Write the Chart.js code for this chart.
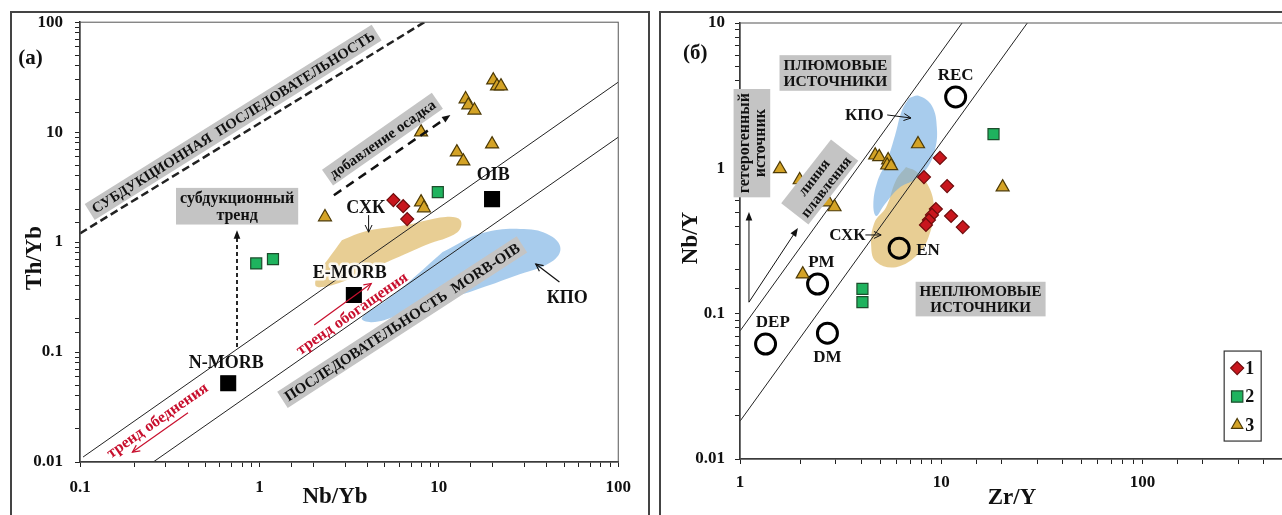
<!DOCTYPE html>
<html>
<head>
<meta charset="utf-8">
<script src="https://cdn.jsdelivr.net/npm/chart.js@4.4.1/dist/chart.umd.min.js"></script>
<style>
body { margin: 0; background: #fff; overflow: hidden; width: 1282px; height: 515px; position: relative; }
canvas { position: absolute; top: 0; }
#chartA { left: 0; }
#chartB { left: 641px; }
.frame { position: absolute; top: 11px; height: 530px; border: 2px solid #444; }
</style>
</head>
<body>
<div class="frame" style="left:10px;width:636px"></div>
<div class="frame" style="left:659px;width:700px"></div>
<canvas id="chartA" width="641" height="515"></canvas>
<canvas id="chartB" width="655" height="515"></canvas>
<script>
// ---- (a) Th/Yb vs Nb/Yb ----
var aTicksX = [0.1, 1, 10, 100];
var aTicksY = [0.01, 0.1, 1, 10, 100];
var aGroup1 = [[5.58, 2.41], [6.33, 2.12], [6.66, 1.62]];
var aGroup2 = [[0.96, 0.64], [1.19, 0.70], [9.87, 2.85]];
var aGroup3 = [[20.1, 29.7], [21.1, 26.2], [22.2, 26.2], [14.1, 20.0], [14.6, 17.6], [15.8, 15.8],
    [7.96, 10.0], [19.8, 7.78], [12.6, 6.58], [13.7, 5.44], [7.96, 2.31], [8.26, 2.04], [2.32, 1.69]];
var aRefNames = ['N-MORB', 'E-MORB', 'OIB'];
var aRefPoints = [[0.67, 0.052], [3.36, 0.33], [19.8, 2.46]];
var aSubductionLine = [[0.1, 1.2], [8.3, 100]];
var aArrayUpper = [[0.104, 0.0111], [100, 28.5]];
var aArrayLower = [[0.256, 0.01], [100, 9.0]];
var aFieldCXK = [[2.88, 1.04], [3.96, 1.26], [6.58, 1.43], [10.9, 1.69], [13.2, 1.58], [12.7, 1.23],
    [8.47, 0.94], [5.79, 0.716], [3.96, 0.545], [2.88, 0.433], [2.24, 0.39], [2.05, 0.406],
    [2.15, 0.534], [2.44, 0.716]];
var aFieldKPO = [[10.5, 0.811], [17.5, 1.21], [31.3, 1.31], [43.1, 1.11], [47.6, 0.846], [41.4, 0.644],
    [26.5, 0.491], [16.0, 0.366], [9.62, 0.279], [5.79, 0.212], [4.22, 0.187], [3.72, 0.204],
    [5.11, 0.297], [7.01, 0.452]];

// ---- (б) Nb/Y vs Zr/Y ----
var bTicksX = [1, 10, 100];
var bTicksY = [0.01, 0.1, 1, 10];
var bGroup1 = [[9.86, 1.18], [8.21, 0.871], [10.7, 0.755], [9.41, 0.525], [9.0, 0.478], [8.69, 0.441],
    [8.40, 0.408], [11.2, 0.47], [12.8, 0.394]];
var bGroup2 = [[18.2, 1.72], [4.06, 0.148], [4.06, 0.120]];
var bGroup3 = [[20.2, 0.743], [1.58, 0.99], [1.98, 0.831], [2.75, 0.586], [2.95, 0.542], [4.70, 1.23],
    [4.92, 1.20], [5.45, 1.14], [5.39, 1.05], [5.64, 1.04], [7.67, 1.47], [2.05, 0.187]];
var bRefNames = ['REC', 'EN', 'PM', 'DEP', 'DM'];
var bRefPoints = [[11.8, 3.10], [6.18, 0.282], [2.43, 0.16], [1.34, 0.0618], [2.72, 0.0734]];
var bLineUpper = [[1, 0.076], [12.7, 10]];
var bLineLower = [[1, 0.0182], [26.8, 10]];
var bFieldKPO = [[6.92, 3.05], [7.76, 3.15], [9.0, 2.69], [9.52, 1.89], [9.31, 1.34], [8.50, 1.0],
    [7.33, 0.831], [6.18, 0.732], [5.21, 0.559], [4.76, 0.47], [4.60, 0.559], [4.81, 0.805],
    [5.39, 1.14], [5.90, 1.69], [6.39, 2.52]];
var bFieldCXK = [[6.69, 1.02], [7.58, 0.943], [8.69, 0.744], [9.2, 0.542], [8.89, 0.376], [7.76, 0.261],
    [5.97, 0.209], [4.76, 0.227], [4.49, 0.287], [4.65, 0.421], [5.33, 0.542], [5.97, 0.831]];
var legendNames = ['1', '2', '3'];

var RED = '#c8102e';
var FONT = '"Liberation Serif", "DejaVu Serif", serif';
var GRAY = '#c4c4c4';
var INK = '#111';
var STYLE1 = { shape: 'rectRot', r: 6.5, fill: '#c8161d', line: '#6e0b0b' };
var STYLE2 = { shape: 'rect', r: 7.8, fill: '#1fb35e', line: '#1d4d2c' };
var STYLE3 = { shape: 'triangle', r: 7.5, fill: '#d4a326', line: '#4d3a06' };

// labels, boxes and arrows, placed in data coordinates
var aNotes = [
    { type: 'text', at: [0.053, 48], text: '(a)', size: 21 },
    { type: 'box', at: [0.714, 12.3], rot: -32, lines: ['СУБДУКЦИОННАЯ  ПОСЛЕДОВАТЕЛЬНОСТЬ'], size: 14.5 },
    { type: 'box', at: [0.751, 2.12], lines: ['субдукционный', 'тренд'], size: 16 },
    { type: 'box', at: [4.85, 8.63], rot: -35, lines: ['добавление осадка'], size: 15 },
    { type: 'box', at: [6.25, 0.187], rot: -33, lines: ['ПОСЛЕДОВАТЕЛЬНОСТЬ  MORB-OIB'], size: 15 },
    { type: 'text', at: [0.269, 0.0241], rot: -35, text: 'тренд обеднения', size: 16, color: RED },
    { type: 'text', at: [3.27, 0.226], rot: -35, text: 'тренд обогащения', size: 16, color: RED },
    { type: 'text', at: [0.653, 0.0811], text: aRefNames[0], size: 18 },
    { type: 'text', at: [3.19, 0.534], text: aRefNames[1], size: 18, halo: true },
    { type: 'text', at: [20.1, 4.15], text: aRefNames[2], size: 18 },
    { type: 'text', at: [3.91, 2.08], text: 'СХК', size: 18 },
    { type: 'text', at: [52.0, 0.316], text: 'КПО', size: 18 },
    { type: 'arrow', from: [0.75, 0.111], to: [0.75, 1.28], dash: [4, 3], width: 1.8, head: 'fill' },
    { type: 'arrow', from: [2.6, 2.67], to: [11.6, 14.3], dash: [9, 6], width: 2.5, head: 'fill' },
    { type: 'arrow', from: [0.40, 0.028], to: [0.196, 0.0123], color: RED, width: 1.2, head: 'open' },
    { type: 'arrow', from: [2.02, 0.176], to: [4.2, 0.42], color: RED, width: 1.2, head: 'open' },
    { type: 'arrow', from: [4.06, 1.76], to: [4.06, 1.23], width: 1, head: 'open' },
    { type: 'arrow', from: [47.0, 0.433], to: [34.7, 0.631], width: 1.2, head: 'open' }
];
var bNotes = [
    { type: 'text', at: [0.6, 6.3], text: '(б)', size: 21 },
    { type: 'box', at: [2.98, 4.53], lines: ['ПЛЮМОВЫЕ', 'ИСТОЧНИКИ'], size: 15.5 },
    { type: 'box', at: [1.146, 1.49], rot: -90, lines: ['гетерогенный', 'источник'], size: 16 },
    { type: 'box', at: [2.49, 0.805], rot: -52, lines: ['линия', 'плавления'], size: 15 },
    { type: 'box', at: [15.7, 0.126], lines: ['НЕПЛЮМОВЫЕ', 'ИСТОЧНИКИ'], size: 15 },
    { type: 'text', at: [4.15, 2.33], text: 'КПО', size: 17 },
    { type: 'text', at: [3.42, 0.348], text: 'СХК', size: 17 },
    { type: 'text', at: [11.8, 4.39], text: bRefNames[0], size: 17 },
    { type: 'text', at: [8.6, 0.274], text: bRefNames[1], size: 17 },
    { type: 'text', at: [2.54, 0.227], text: bRefNames[2], size: 17 },
    { type: 'text', at: [1.456, 0.0875], text: bRefNames[3], size: 17 },
    { type: 'text', at: [2.72, 0.051], text: bRefNames[4], size: 17 },
    { type: 'arrow', from: [1.108, 0.120], to: [1.108, 0.50], width: 1, head: 'fill' },
    { type: 'arrow', from: [1.108, 0.120], to: [1.94, 0.388], width: 1, head: 'fill' },
    { type: 'arrow', from: [5.39, 2.33], to: [7.08, 2.22], width: 1, head: 'open' },
    { type: 'arrow', from: [4.20, 0.348], to: [5.03, 0.348], width: 1, head: 'open' }
];

function pt(list) {
    return list.map(function (p) { return { x: p[0], y: p[1] }; });
}

function closed(list) {
    return list.concat([list[0]]);
}

function matchTick(v, list) {
    for (var i = 0; i < list.length; i++) {
        if (Math.abs(v / list[i] - 1) < 1e-6) return String(list[i]);
    }
    return '';
}

function logAxis(min, max, labels, size, pad, isX) {
    return {
        type: 'logarithmic', min: min, max: max,
        afterFit: function (s) { if (isX) { s.height = size; } else { s.width = size; } },
        border: { display: true, color: '#222', width: 1.5 },
        grid: { drawOnChartArea: false, drawTicks: true, tickLength: 5, color: '#222', lineWidth: 1 },
        ticks: {
            autoSkip: false, maxRotation: 0, padding: pad, color: INK,
            font: { family: FONT, size: 17, weight: 'bold' },
            callback: function (v) { return matchTick(v, labels); }
        }
    };
}

function pointSet(data, st, order) {
    return {
        type: 'scatter', data: pt(data), order: order || 0,
        pointStyle: st.shape, pointRadius: st.r, pointHoverRadius: st.r,
        pointBackgroundColor: st.fill, pointBorderColor: st.line, pointBorderWidth: 1.2
    };
}

function lineSet(data, width, dash) {
    return {
        type: 'line', data: pt(data), order: 5, borderColor: '#222', borderWidth: width,
        borderDash: dash || [], pointRadius: 0, fill: false, tension: 0
    };
}

function fieldSet(data, color, order) {
    return {
        type: 'line', data: pt(closed(data)), order: order, borderColor: 'transparent', borderWidth: 0,
        backgroundColor: color, fill: 'shape', tension: 0.4, pointRadius: 0
    };
}

function drawMarker(ctx, st, x, y) {
    var r = st.r;
    ctx.beginPath();
    if (st.shape === 'rectRot') {
        ctx.moveTo(x, y - r); ctx.lineTo(x + r, y); ctx.lineTo(x, y + r); ctx.lineTo(x - r, y);
    } else if (st.shape === 'rect') {
        var h = r * Math.SQRT1_2;
        ctx.rect(x - h, y - h, 2 * h, 2 * h);
    } else {
        ctx.moveTo(x, y - r);
        ctx.lineTo(x + r * 0.866, y + r * 0.5);
        ctx.lineTo(x - r * 0.866, y + r * 0.5);
    }
    ctx.closePath();
    ctx.fillStyle = st.fill; ctx.strokeStyle = st.line; ctx.lineWidth = 1.2;
    ctx.fill(); ctx.stroke();
}

function drawArrow(ctx, x1, y1, x2, y2, n) {
    var ang = Math.atan2(y2 - y1, x2 - x1);
    var hl = n.head === 'fill' ? 9 : 8;
    var spread = n.head === 'fill' ? 0.38 : 0.45;
    var col = n.color || INK;
    ctx.save();
    ctx.strokeStyle = col; ctx.fillStyle = col; ctx.lineWidth = n.width || 1;
    ctx.setLineDash(n.dash || []);
    ctx.beginPath();
    ctx.moveTo(x1, y1);
    var back = n.head === 'fill' ? hl * 0.7 : 0;
    ctx.lineTo(x2 - Math.cos(ang) * back, y2 - Math.sin(ang) * back);
    ctx.stroke();
    ctx.setLineDash([]);
    ctx.beginPath();
    ctx.moveTo(x2 - hl * Math.cos(ang - spread), y2 - hl * Math.sin(ang - spread));
    ctx.lineTo(x2, y2);
    ctx.lineTo(x2 - hl * Math.cos(ang + spread), y2 - hl * Math.sin(ang + spread));
    if (n.head === 'fill') { ctx.closePath(); ctx.fill(); } else { ctx.stroke(); }
    ctx.restore();
}

function notesPlugin(notes, titles, legendAt) {
    return {
        id: 'notes',
        afterDatasetsDraw: function (chart) {
            var ctx = chart.ctx, xs = chart.scales.x, ys = chart.scales.y, ca = chart.chartArea;
            ctx.save();
            ctx.strokeStyle = '#555'; ctx.lineWidth = 1;
            ctx.strokeRect(ca.left, ca.top, ca.right - ca.left, ca.bottom - ca.top);
            ctx.restore();

            notes.forEach(function (n) {
                if (n.type === 'arrow') {
                    drawArrow(ctx, xs.getPixelForValue(n.from[0]), ys.getPixelForValue(n.from[1]),
                        xs.getPixelForValue(n.to[0]), ys.getPixelForValue(n.to[1]), n);
                    return;
                }
                var lines = n.lines || [n.text];
                var lh = n.size * (n.type === 'box' ? 1.02 : 1.12);
                ctx.save();
                ctx.translate(xs.getPixelForValue(n.at[0]), ys.getPixelForValue(n.at[1]));
                ctx.rotate((n.rot || 0) * Math.PI / 180);
                ctx.font = 'bold ' + n.size + 'px ' + FONT;
                ctx.textAlign = 'center';
                ctx.textBaseline = 'middle';
                if (n.type === 'box') {
                    var w = 0;
                    lines.forEach(function (s) { w = Math.max(w, ctx.measureText(s).width); });
                    var h = lines.length * lh;
                    ctx.fillStyle = GRAY;
                    ctx.fillRect(-w / 2 - 4, -h / 2 - 2, w + 8, h + 4);
                }
                lines.forEach(function (s, i) {
                    var yy = (i - (lines.length - 1) / 2) * lh + 1;
                    if (n.halo) {
                        ctx.strokeStyle = 'rgba(255,255,255,0.85)'; ctx.lineWidth = 5; ctx.lineJoin = 'round';
                        ctx.strokeText(s, 0, yy);
                    }
                    ctx.fillStyle = n.color || INK;
                    ctx.fillText(s, 0, yy);
                });
                ctx.restore();
            });

            // axis titles
            ctx.save();
            ctx.fillStyle = INK;
            ctx.font = 'bold 23px ' + FONT;
            ctx.textAlign = 'center';
            ctx.textBaseline = 'middle';
            ctx.fillText(titles.x[0], titles.x[1], titles.x[2]);
            ctx.translate(titles.y[1], titles.y[2]);
            ctx.rotate(-Math.PI / 2);
            ctx.fillText(titles.y[0], 0, 0);
            ctx.restore();

            if (legendAt) {
                var lx = xs.getPixelForValue(legendAt[0]), ly = ys.getPixelForValue(legendAt[1]);
                ctx.save();
                ctx.fillStyle = '#fff';
                ctx.fillRect(lx, ly, 37, 90);
                ctx.strokeStyle = '#333'; ctx.lineWidth = 1.2;
                ctx.strokeRect(lx, ly, 37, 90);
                [STYLE1, STYLE2, STYLE3].forEach(function (st, i) {
                    var cy = ly + 17 + i * 28.5;
                    var m = { shape: st.shape, r: st.shape === 'rect' ? 8 : 6.5, fill: st.fill, line: st.line };
                    drawMarker(ctx, m, lx + 13, cy);
                    ctx.fillStyle = INK;
                    ctx.font = 'bold 18px ' + FONT;
                    ctx.textAlign = 'left';
                    ctx.textBaseline = 'middle';
                    ctx.fillText(legendNames[i], lx + 21, cy + 1);
                });
                ctx.restore();
            }
        }
    };
}

function baseOptions(xAxis, yAxis, padding) {
    return {
        responsive: false,
        devicePixelRatio: 1,
        animation: false,
        events: [],
        layout: { padding: padding },
        plugins: { legend: { display: false }, tooltip: { enabled: false } },
        scales: { x: xAxis, y: yAxis }
    };
}

var refStyle = { shape: 'rect', r: 10.5, fill: '#000', line: '#000' };

new Chart(document.getElementById('chartA'), {
    type: 'scatter',
    data: {
        datasets: [
            pointSet(aGroup1, STYLE1),
            pointSet(aGroup2, STYLE2),
            pointSet(aGroup3, STYLE3),
            pointSet(aRefPoints, refStyle, 1),
            lineSet(aSubductionLine, 2.5, [8, 4]),
            lineSet(aArrayUpper, 1),
            lineSet(aArrayLower, 1),
            fieldSet(aFieldCXK, 'rgba(218,176,82,0.62)', 10),
            fieldSet(aFieldKPO, 'rgba(110,170,225,0.6)', 10)
        ]
    },
    options: baseOptions(
        logAxis(0.1, 100, aTicksX, 43, 10, true),
        logAxis(0.01, 100, aTicksY, 70, 12, false),
        { left: 10, right: 17, top: 22, bottom: 10 }
    ),
    plugins: [notesPlugin(aNotes, { x: ['Nb/Yb', 335, 497], y: ['Th/Yb', 35, 258] }, null)]
});

var circleStyle = {
    type: 'scatter', data: pt(bRefPoints), order: 1,
    pointStyle: 'circle', pointRadius: 10, pointHoverRadius: 10,
    pointBackgroundColor: 'rgba(0,0,0,0)', pointBorderColor: '#000', pointBorderWidth: 3
};

new Chart(document.getElementById('chartB'), {
    type: 'scatter',
    data: {
        datasets: [
            pointSet(bGroup1, STYLE1),
            pointSet(bGroup2, STYLE2),
            pointSet(bGroup3, STYLE3),
            circleStyle,
            lineSet(bLineUpper, 1),
            lineSet(bLineLower, 1),
            fieldSet(bFieldKPO, 'rgba(110,170,225,0.6)', 10),
            fieldSet(bFieldCXK, 'rgba(218,176,82,0.62)', 11)
        ]
    },
    options: baseOptions(
        logAxis(1, 500, bTicksX, 46, 8, true),
        logAxis(0.01, 10, bTicksY, 89, 10, false),
        { left: 10, right: 10, top: 23, bottom: 10 }
    ),
    plugins: [notesPlugin(bNotes, { x: ['Zr/Y', 371, 498], y: ['Nb/Y', 50, 238] }, [255, 0.0553])]
});
</script>
</body>
</html>
